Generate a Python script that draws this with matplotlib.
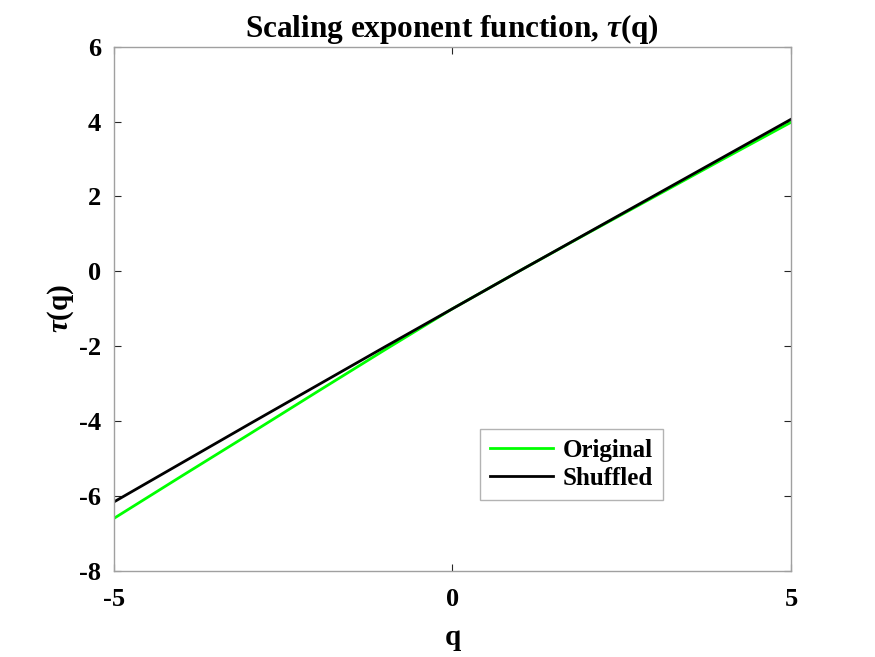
import matplotlib
matplotlib.use("Agg")
import matplotlib.pyplot as plt

plt.rcParams["font.family"] = ["Liberation Serif", "DejaVu Serif"]
plt.rcParams["font.weight"] = "bold"
plt.rcParams["axes.unicode_minus"] = False
plt.rcParams["mathtext.fontset"] = "custom"
plt.rcParams["mathtext.rm"] = "Liberation Serif:bold"
plt.rcParams["mathtext.it"] = "Liberation Serif:italic:bold"
plt.rcParams["mathtext.bf"] = "Liberation Serif:bold"

q = [-5, -4, -3, -2, -1, 0, 1, 2, 3, 4, 5]
tau_original = [-6.60, -5.47, -4.35, -3.22, -2.10, -1.00, 0.02, 1.02, 2.01, 3.00, 3.98]
tau_shuffled = [-6.16, -5.12, -4.08, -3.05, -2.02, -1.00, 0.02, 1.03, 2.04, 3.05, 4.06]

xticks = [-5, 0, 5]
yticks = [-8, -6, -4, -2, 0, 2, 4, 6]

fig = plt.figure(figsize=(8.75, 6.57), dpi=100)
ax = fig.add_axes([0.130, 0.131, 0.774, 0.798])

ax.plot(q, tau_original, color=(0, 1, 0), linewidth=2, label="Original")
ax.plot(q, tau_shuffled, color="black", linewidth=2, label="Shuffled")

ax.set_xlim(-5, 5)
ax.set_ylim(-8, 6)
ax.set_xticks(xticks)
ax.set_yticks(yticks)
ax.tick_params(direction="in", top=True, right=True, labelsize=19, length=5,
               color="#262626")
ax.tick_params(axis="x", pad=12)
ax.tick_params(axis="y", pad=9)
for lbl in ax.get_xticklabels() + ax.get_yticklabels():
    lbl.set_fontweight("bold")
for s in ax.spines.values():
    s.set_color("#a0a0a0")
    s.set_linewidth(1)

ax.set_title(r"Scaling exponent function, $\tau$(q)", fontsize=22.5, fontweight="bold", pad=7)
ax.set_xlabel("q", fontsize=21, fontweight="bold", labelpad=10)
ax.set_ylabel(r"$\tau$(q)", fontsize=21, fontweight="bold", labelpad=2)

leg = ax.legend(loc="lower left", bbox_to_anchor=(0.541, 0.135), fontsize=18,
                frameon=True, fancybox=False, handlelength=2.5, borderpad=0.4,
                labelspacing=0.2, handletextpad=0.4, borderaxespad=0)
leg.get_frame().set_edgecolor("#a0a0a0")
leg.get_frame().set_linewidth(1)
for t in leg.get_texts():
    t.set_fontweight("bold")

fig.savefig("out.png", dpi=100)
